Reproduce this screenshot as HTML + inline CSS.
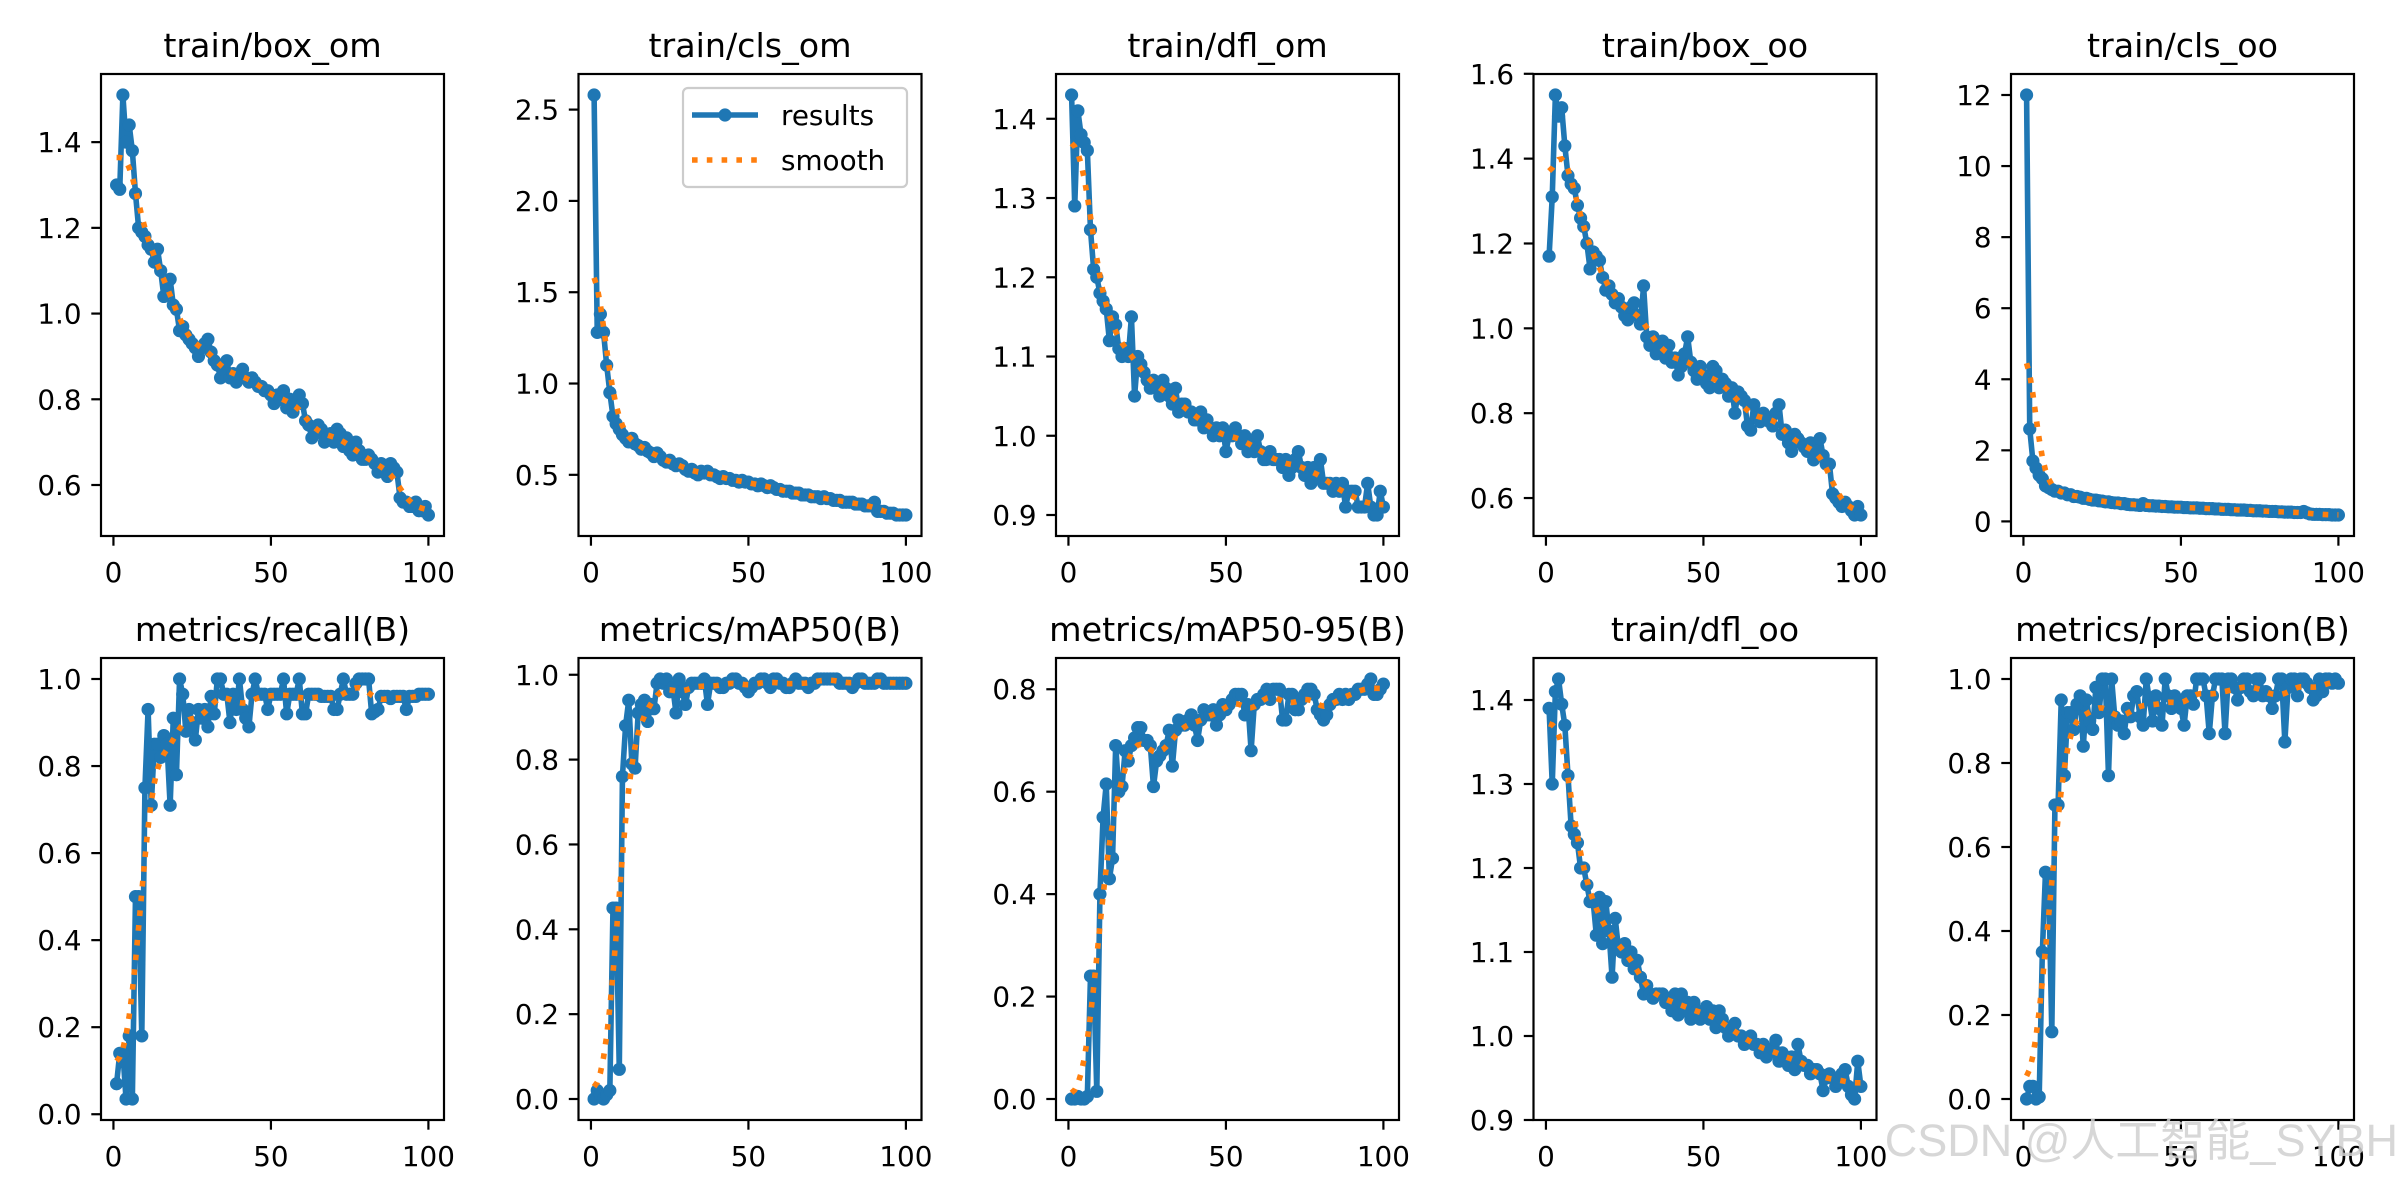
<!DOCTYPE html>
<html><head><meta charset="utf-8">
<style>
html,body{margin:0;padding:0;background:#fff;}
svg{display:block;font-family:"DejaVu Sans","Liberation Sans",sans-serif;}
</style></head>
<body>
<svg id="fig" width="2400" height="1200" viewBox="0 0 2400 1200" xmlns="http://www.w3.org/2000/svg">
<rect width="2400" height="1200" fill="#fff"/>
<text x="2398" y="1156" text-anchor="end" font-family="'Liberation Sans','Noto Sans CJK SC',sans-serif" font-size="45" fill="#d0d0d0" fill-opacity="0.85">CSDN @人工智能_SYBH</text>
</svg>
<script>
const epochs = Array.from({length:100},(_,i)=>i+1);
const titles = ["train/box_om","train/cls_om","train/dfl_om","train/box_oo","train/cls_oo","metrics/recall(B)","metrics/mAP50(B)","metrics/mAP50-95(B)","train/dfl_oo","metrics/precision(B)"];
const boxOm = [1.30,1.29,1.51,1.40,1.44,1.38,1.28,1.20,1.19,1.18,1.16,1.15,1.12,1.15,1.10,1.04,1.06,1.08,1.02,1.01,0.96,0.97,0.95,0.94,0.93,0.92,0.90,0.92,0.93,0.94,0.91,0.89,0.88,0.85,0.87,0.89,0.85,0.86,0.84,0.86,0.87,0.85,0.84,0.85,0.84,0.83,0.83,0.82,0.82,0.81,0.79,0.81,0.80,0.82,0.78,0.80,0.77,0.79,0.81,0.79,0.75,0.74,0.71,0.72,0.74,0.73,0.70,0.71,0.72,0.70,0.73,0.72,0.69,0.71,0.68,0.67,0.70,0.68,0.66,0.66,0.67,0.66,0.65,0.63,0.65,0.64,0.62,0.65,0.64,0.63,0.57,0.56,0.56,0.55,0.55,0.56,0.54,0.54,0.55,0.53];
const clsOm = [2.58,1.28,1.38,1.28,1.10,0.95,0.82,0.78,0.75,0.72,0.70,0.68,0.70,0.67,0.66,0.64,0.65,0.63,0.62,0.60,0.62,0.60,0.58,0.57,0.58,0.56,0.55,0.56,0.55,0.53,0.52,0.53,0.51,0.50,0.52,0.51,0.52,0.50,0.50,0.49,0.48,0.49,0.48,0.48,0.47,0.47,0.46,0.47,0.46,0.46,0.45,0.45,0.44,0.45,0.44,0.43,0.44,0.43,0.42,0.42,0.41,0.41,0.41,0.40,0.40,0.40,0.39,0.39,0.39,0.38,0.38,0.38,0.37,0.38,0.37,0.37,0.36,0.36,0.36,0.35,0.35,0.35,0.35,0.34,0.34,0.34,0.33,0.33,0.33,0.35,0.30,0.30,0.30,0.29,0.29,0.29,0.28,0.28,0.28,0.28];
const dflOm = [1.43,1.29,1.41,1.38,1.37,1.36,1.26,1.21,1.20,1.18,1.17,1.16,1.12,1.15,1.14,1.11,1.10,1.11,1.10,1.15,1.05,1.10,1.09,1.08,1.07,1.06,1.07,1.06,1.05,1.07,1.06,1.05,1.04,1.06,1.03,1.04,1.04,1.03,1.03,1.02,1.02,1.03,1.01,1.02,1.01,1.00,1.01,1.00,1.01,0.98,1.00,1.00,1.01,1.00,0.99,1.00,0.98,0.99,0.98,1.00,0.98,0.97,0.97,0.98,0.97,0.97,0.97,0.96,0.97,0.95,0.96,0.97,0.98,0.96,0.95,0.96,0.94,0.96,0.95,0.97,0.94,0.94,0.94,0.93,0.94,0.93,0.94,0.91,0.93,0.93,0.93,0.91,0.91,0.91,0.94,0.91,0.90,0.90,0.93,0.91];
const boxOo = [1.17,1.31,1.55,1.50,1.52,1.43,1.36,1.34,1.33,1.29,1.26,1.24,1.20,1.14,1.18,1.17,1.16,1.12,1.09,1.10,1.08,1.06,1.07,1.05,1.03,1.02,1.05,1.06,1.03,1.01,1.10,0.98,0.96,0.98,0.94,0.95,0.97,0.93,0.96,0.92,0.93,0.89,0.91,0.94,0.98,0.92,0.90,0.88,0.91,0.89,0.87,0.86,0.91,0.90,0.86,0.88,0.87,0.84,0.86,0.80,0.85,0.84,0.83,0.77,0.76,0.82,0.79,0.78,0.80,0.79,0.78,0.77,0.80,0.82,0.75,0.76,0.73,0.71,0.75,0.74,0.73,0.72,0.71,0.73,0.69,0.71,0.74,0.70,0.68,0.68,0.61,0.60,0.59,0.58,0.59,0.58,0.57,0.56,0.58,0.56];
const clsOo = [12.0,2.6,1.7,1.5,1.3,1.2,1.0,0.95,0.9,0.85,0.85,0.8,0.8,0.75,0.75,0.7,0.7,0.68,0.65,0.65,0.62,0.6,0.6,0.58,0.57,0.55,0.55,0.53,0.52,0.52,0.5,0.5,0.48,0.47,0.47,0.46,0.45,0.5,0.45,0.44,0.44,0.43,0.43,0.42,0.42,0.41,0.41,0.4,0.4,0.4,0.39,0.39,0.38,0.38,0.38,0.37,0.37,0.36,0.36,0.36,0.35,0.35,0.34,0.34,0.34,0.33,0.33,0.32,0.32,0.32,0.31,0.31,0.3,0.3,0.3,0.29,0.29,0.28,0.28,0.28,0.27,0.27,0.26,0.26,0.26,0.25,0.25,0.25,0.28,0.24,0.21,0.2,0.2,0.2,0.19,0.19,0.19,0.18,0.18,0.18];
const recall = [0.07,0.14,0.14,0.035,0.18,0.035,0.50,0.50,0.18,0.75,0.93,0.71,0.85,0.85,0.82,0.87,0.85,0.71,0.91,0.78,1.00,0.965,0.88,0.93,0.90,0.86,0.93,0.91,0.93,0.89,0.96,0.92,1.00,1.00,0.965,0.965,0.90,0.965,0.93,1.00,0.93,0.91,0.89,0.965,1.00,0.965,0.965,0.965,0.93,0.965,0.965,0.965,0.965,1.00,0.92,0.965,0.965,0.965,1.00,0.92,0.92,0.965,0.965,0.965,0.965,0.96,0.96,0.96,0.96,0.93,0.93,0.965,1.00,0.965,0.965,0.965,0.99,1.00,1.00,1.00,1.00,0.92,0.925,0.93,0.96,0.96,0.96,0.955,0.96,0.96,0.96,0.96,0.93,0.96,0.96,0.96,0.965,0.965,0.965,0.965];
const map50 = [0.0,0.02,0.01,0.0,0.01,0.02,0.45,0.45,0.07,0.76,0.88,0.94,0.79,0.78,0.91,0.93,0.94,0.89,0.93,0.92,0.98,0.99,0.98,0.99,0.96,0.97,0.91,0.99,0.96,0.93,0.97,0.98,0.98,0.98,0.98,0.99,0.93,0.98,0.98,0.98,0.97,0.97,0.98,0.98,0.99,0.99,0.98,0.98,0.97,0.96,0.97,0.98,0.98,0.99,0.99,0.98,0.97,0.99,0.99,0.98,0.98,0.97,0.97,0.98,0.99,0.98,0.98,0.98,0.97,0.98,0.98,0.99,0.99,0.99,0.99,0.99,0.99,0.99,0.98,0.98,0.98,0.98,0.97,0.98,0.99,0.99,0.98,0.98,0.98,0.98,0.99,0.99,0.98,0.98,0.98,0.98,0.98,0.98,0.98,0.98];
const map5095 = [0.0,0.0,0.005,0.0,0.0,0.005,0.24,0.24,0.015,0.40,0.55,0.615,0.43,0.47,0.69,0.60,0.61,0.68,0.66,0.69,0.705,0.725,0.725,0.70,0.70,0.69,0.61,0.66,0.67,0.68,0.69,0.72,0.65,0.72,0.74,0.73,0.73,0.74,0.75,0.73,0.70,0.74,0.76,0.75,0.75,0.76,0.73,0.75,0.77,0.76,0.77,0.78,0.79,0.79,0.79,0.75,0.77,0.68,0.77,0.78,0.78,0.79,0.80,0.78,0.80,0.80,0.80,0.74,0.74,0.79,0.79,0.76,0.76,0.78,0.79,0.80,0.80,0.79,0.76,0.75,0.74,0.75,0.77,0.78,0.78,0.79,0.78,0.79,0.78,0.79,0.79,0.80,0.80,0.80,0.81,0.82,0.79,0.79,0.80,0.81];
const dflOo = [1.39,1.30,1.41,1.425,1.395,1.37,1.31,1.25,1.24,1.23,1.20,1.20,1.18,1.16,1.16,1.12,1.165,1.11,1.16,1.125,1.07,1.14,1.105,1.10,1.11,1.09,1.10,1.08,1.09,1.07,1.05,1.06,1.05,1.045,1.05,1.05,1.05,1.04,1.045,1.03,1.05,1.025,1.05,1.03,1.04,1.02,1.04,1.03,1.02,1.025,1.035,1.02,1.03,1.01,1.03,1.02,1.01,1.00,1.01,1.015,1.00,1.00,0.99,0.995,1.00,0.99,0.99,0.98,0.99,0.975,0.98,0.985,0.995,0.97,0.98,0.975,0.965,0.975,0.96,0.99,0.97,0.965,0.965,0.955,0.96,0.96,0.955,0.935,0.95,0.955,0.95,0.94,0.945,0.955,0.96,0.94,0.93,0.925,0.97,0.94];
const precision = [0.0,0.03,0.03,0.0,0.005,0.35,0.54,0.53,0.16,0.70,0.70,0.95,0.77,0.92,0.92,0.88,0.94,0.96,0.84,0.95,0.90,0.88,0.98,0.92,1.00,1.00,0.77,1.00,0.91,0.89,0.90,0.87,0.93,0.91,0.96,0.97,0.91,0.89,1.00,0.95,0.90,0.96,0.93,0.89,1.00,0.96,0.93,0.96,0.95,0.93,0.89,0.96,0.96,0.94,1.00,1.00,1.00,0.96,0.87,0.96,1.00,1.00,1.00,0.87,1.00,1.00,0.98,0.95,0.98,1.00,1.00,0.97,0.96,1.00,1.00,0.96,0.97,0.96,0.93,0.96,1.00,1.00,0.85,0.98,1.00,1.00,0.96,1.00,1.00,0.99,0.98,0.95,0.96,1.00,0.97,1.00,1.00,0.99,1.00,0.99];
const xTicks = [0,50,100];
const yTicksBoxOm = [0.6,0.8,1.0,1.2,1.4];
const yTicksClsOm = [0.5,1.0,1.5,2.0,2.5];
const yTicksDflOm = [0.9,1.0,1.1,1.2,1.3,1.4];
const yTicksBoxOo = [0.6,0.8,1.0,1.2,1.4,1.6];
const yTicksClsOo = [0,2,4,6,8,10,12];
const yTicksUnit = [0.0,0.2,0.4,0.6,0.8,1.0];
const yTicksMap5095 = [0.0,0.2,0.4,0.6,0.8];
const yTicksDflOo = [0.9,1.0,1.1,1.2,1.3,1.4];

const series = [boxOm,clsOm,dflOm,boxOo,clsOo,recall,map50,map5095,dflOo,precision];
const yTicks = [yTicksBoxOm,yTicksClsOm,yTicksDflOm,yTicksBoxOo,yTicksClsOo,yTicksUnit,yTicksUnit,yTicksMap5095,yTicksDflOo,yTicksUnit];
const decimals = [1,1,1,1,0,1,1,1,1,1];

const NS = "http://www.w3.org/2000/svg";
const svg = document.getElementById('fig');
const wm = svg.lastElementChild;
function mk(tag, attrs, parent){
  const e = document.createElementNS(NS, tag);
  for (const k in attrs) e.setAttribute(k, attrs[k]);
  (parent||svg).appendChild(e);
  return e;
}
function gauss(y, sigma){
  const r = Math.round(4*sigma), n = y.length, w = [];
  let s = 0;
  for (let k=-r;k<=r;k++){ const v = Math.exp(-0.5*k*k/(sigma*sigma)); w.push(v); s+=v; }
  const refl = i => { while(i<0||i>=n){ if(i<0) i=-i-1; if(i>=n) i=2*n-i-1; } return i; };
  return y.map((_,i)=>{ let a=0; for(let k=-r;k<=r;k++) a+=w[k+r]*y[refl(i+k)]; return a/s; });
}
const colLeft = [101,578.5,1056,1533.5,2011];
const rowTop = [74,658];
const AW = 343, AH = 462;
const BLUE = "#1f77b4", ORANGE = "#ff7f0e";

series.forEach((data, p) => {
  const L = colLeft[p%5], T = rowTop[Math.floor(p/5)];
  const g = mk('g', {});
  
  
  const xmin = Math.min(...epochs), xmax = Math.max(...epochs), xm = (xmax-xmin)*0.05;
  const ymin = Math.min(...data), ymax = Math.max(...data), ym = (ymax-ymin)*0.05;
  const x0 = xmin-xm, x1 = xmax+xm, y0 = ymin-ym, y1 = ymax+ym;
  const sx = v => L + (v-x0)/(x1-x0)*AW;
  const sy = v => T + AH - (v-y0)/(y1-y0)*AH;
  const clipId = 'clip'+p;
  const cp = mk('clipPath', {id:clipId}, g);
  mk('rect', {x:L, y:T, width:AW, height:AH}, cp);
  const t = mk('text', {x:L+AW/2, y:T-17, 'text-anchor':'middle', 'font-size':33.3, fill:'#000'}, g);
  t.textContent = titles[p];
  
  
  xTicks.forEach(v => {
    const x = sx(v);
    const tk = mk('line', {x1:x, x2:x, y1:T+AH, y2:T+AH+9.7, stroke:'#000', 'stroke-width':2.2}, g);
    
    
    const lb = mk('text', {x:x, y:T+AH+46, 'text-anchor':'middle', 'font-size':27.8, fill:'#000'}, g);
    lb.textContent = String(v);
    
    
  });
  yTicks[p].forEach(v => {
    if (v < y0-1e-9 || v > y1+1e-3) return;
    const y = sy(v);
    const tk = mk('line', {x1:L-9.7, x2:L, y1:y, y2:y, stroke:'#000', 'stroke-width':2.2}, g);
    
    
    const lb = mk('text', {x:L-19.4, y:y+10, 'text-anchor':'end', 'font-size':27.8, fill:'#000'}, g);
    lb.textContent = v.toFixed(decimals[p]);
    
    
  });
  const pts = data.map((v,i)=> sx(epochs[i]).toFixed(2)+','+sy(v).toFixed(2)).join(' ');
  const ln = mk('polyline', {points:pts, fill:'none', stroke:BLUE, 'stroke-width':5.6, 'stroke-linejoin':'round', 'clip-path':'url(#'+clipId+')'}, g);
  
  
  data.forEach((v,i) => {
    const c = mk('circle', {cx:sx(epochs[i]), cy:sy(v), r:6.6, fill:BLUE}, g);
    
    
  });
  const sm = gauss(data, 3);
  const spts = sm.map((v,i)=> sx(epochs[i]).toFixed(2)+','+sy(v).toFixed(2)).join(' ');
  const sl = mk('polyline', {points:spts, fill:'none', stroke:ORANGE, 'stroke-width':5.6, 'stroke-dasharray':'5.6 9.2', 'clip-path':'url(#'+clipId+')'}, g);
  
  
  const fr = mk('rect', {x:L, y:T, width:AW, height:AH, fill:'none', stroke:'#000', 'stroke-width':2.2}, g);
  
  
  if (p === 1) {
    const lg = mk('g', {}, g);
    
    
    mk('rect', {x:683, y:88, width:224, height:99, rx:5, fill:'#fff', 'fill-opacity':0.8, stroke:'#cccccc', 'stroke-width':2.2}, lg);
    const e1 = mk('g', {}, lg);
    
    
    mk('line', {x1:692, x2:758, y1:115, y2:115, stroke:BLUE, 'stroke-width':5.6}, e1);
    mk('circle', {cx:725, cy:115, r:6.6, fill:BLUE}, e1);
    const t1 = mk('text', {x:781, y:125, 'font-size':27.8, fill:'#000'}, e1);
    t1.textContent = 'results';
    const e2 = mk('g', {}, lg);
    
    
    mk('line', {x1:692, x2:758, y1:160, y2:160, stroke:ORANGE, 'stroke-width':5.6, 'stroke-dasharray':'5.6 9.2'}, e2);
    const t2 = mk('text', {x:781, y:170, 'font-size':27.8, fill:'#000'}, e2);
    t2.textContent = 'smooth';
  }
});
svg.appendChild(wm);
</script>
</body></html>
